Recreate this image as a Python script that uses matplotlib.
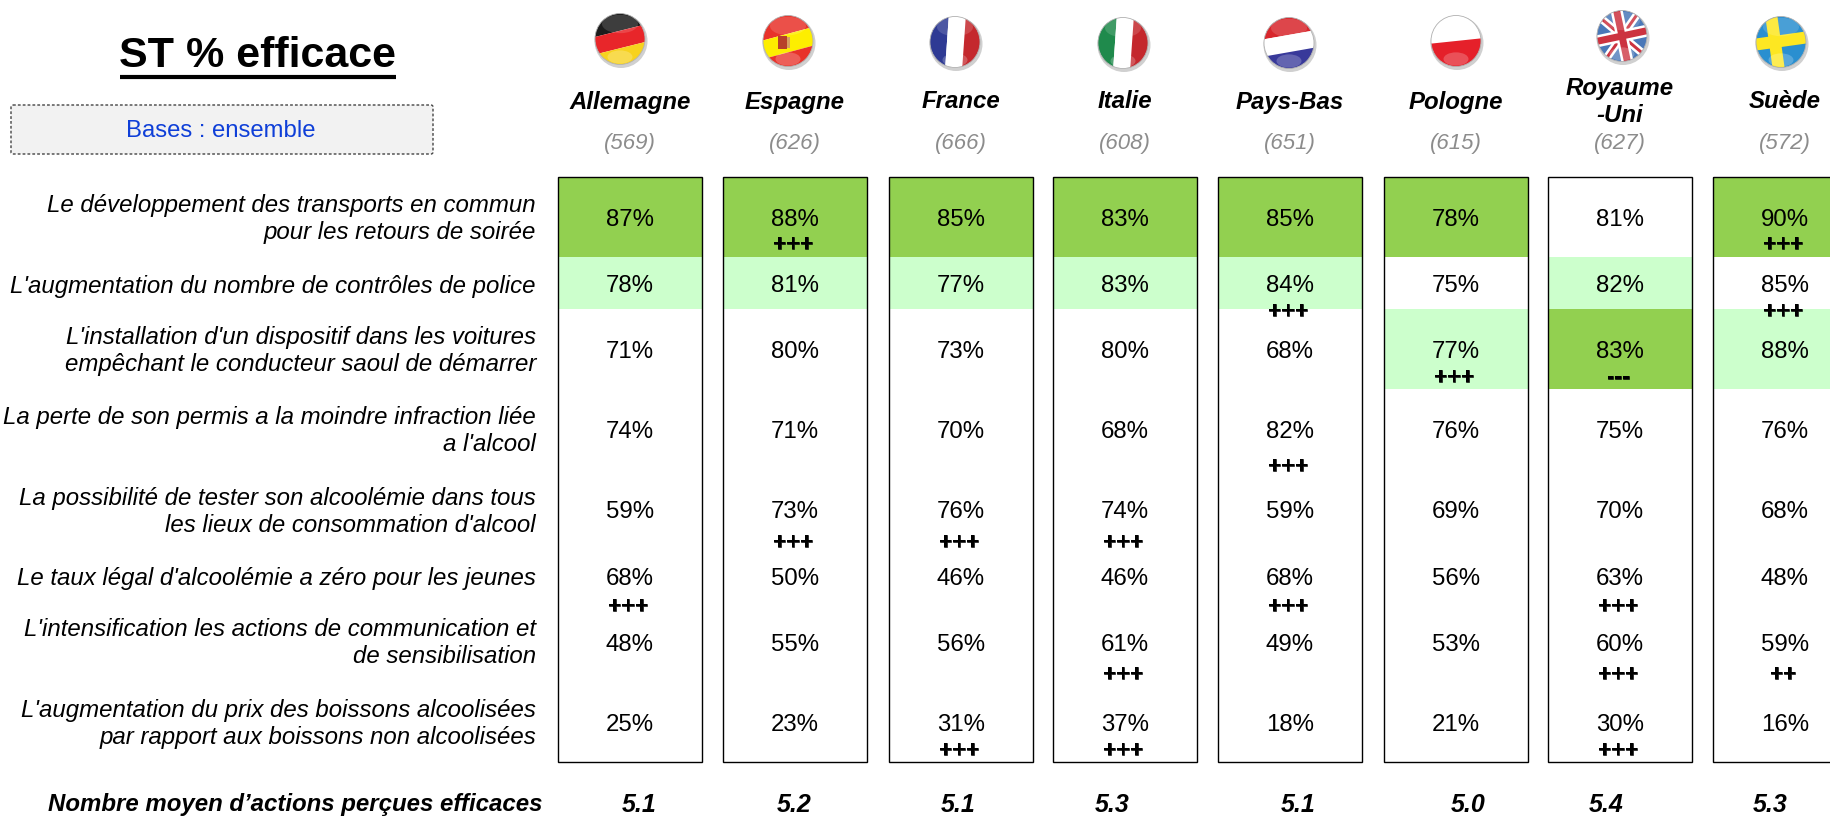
import matplotlib
matplotlib.use("Agg")
import matplotlib.pyplot as plt
import matplotlib.patheffects as pe
from matplotlib.patches import Ellipse, Rectangle, FancyBboxPatch
from matplotlib.transforms import Affine2D

plt.rcParams['font.family'] = ['Liberation Sans', 'DejaVu Sans']

COUNTRIES = ["Allemagne", "Espagne", "France", "Italie", "Pays-Bas", "Pologne", "Royaume\n-Uni", "Suède"]
BASES = ["(569)", "(626)", "(666)", "(608)", "(651)", "(615)", "(627)", "(572)"]
ITEMS = [
    "Le développement des transports en commun\npour les retours de soirée",
    "L'augmentation du nombre de contrôles de police",
    "L'installation d'un dispositif dans les voitures\nempêchant le conducteur saoul de démarrer",
    "La perte de son permis a la moindre infraction liée\na l'alcool",
    "La possibilité de tester son alcoolémie dans tous\nles lieux de consommation d'alcool",
    "Le taux légal d'alcoolémie a zéro pour les jeunes",
    "L'intensification les actions de communication et\nde sensibilisation",
    "L'augmentation du prix des boissons alcoolisées\npar rapport aux boissons non alcoolisées",
]
VALUES = [
    [87, 88, 85, 83, 85, 78, 81, 90],
    [78, 81, 77, 83, 84, 75, 82, 85],
    [71, 80, 73, 80, 68, 77, 83, 88],
    [74, 71, 70, 68, 82, 76, 75, 76],
    [59, 73, 76, 74, 59, 69, 70, 68],
    [68, 50, 46, 46, 68, 56, 63, 48],
    [48, 55, 56, 61, 49, 53, 60, 59],
    [25, 23, 31, 37, 18, 21, 30, 16],
]
MARKS = [
    ["", "+++", "", "", "", "", "", "+++"],
    ["", "", "", "", "+++", "", "", "+++"],
    ["", "", "", "", "", "+++", "---", ""],
    ["", "", "", "", "+++", "", "", ""],
    ["", "+++", "+++", "+++", "", "", "", ""],
    ["+++", "", "", "", "+++", "", "+++", ""],
    ["", "", "", "+++", "", "", "+++", "++"],
    ["", "", "+++", "+++", "", "", "+++", ""],
]
# 2 = top rank (dark green), 1 = second rank (light green); first three rows only
RANKS = [
    [2, 2, 2, 2, 2, 2, 0, 2],
    [1, 1, 1, 1, 1, 0, 1, 0],
    [0, 0, 0, 0, 0, 1, 2, 1],
]
MEANS = ["5.1", "5.2", "5.1", "5.3", "5.1", "5.0", "5.4", "5.3"]
MEAN_LABEL = "Nombre moyen d’actions perçues efficaces"

# layout, in pixels of the 1831x816 picture
COL_LEFT = [558, 723, 889, 1053, 1218, 1384, 1548, 1713]
COL_W = 144
BOX_TOP, BOX_BOTTOM = 177, 762
BAND_EDGES = [177, 257, 309, 389]
VALUE_Y = [220, 286, 352, 432, 512, 579, 645, 725]
MARK_Y = [244, 311, 377, 466, 542, 606, 674, 750]
LABEL_Y = [219, 286, 351, 431, 512, 578, 643, 724]
MEAN_X = [639, 794, 958, 1112, 1298, 1468, 1606, 1770]
FLAG_POS = [(620, 39), (788, 41), (955, 42), (1123, 43), (1289, 43), (1456, 41), (1622, 36), (1781, 42)]
BAND_COLORS = {1: "#CCFFCC", 2: "#92D050"}


def stripes(ax, clip, cx, cy, angle, rects):
    rot = Affine2D().rotate_deg_around(cx, cy, angle) + ax.transData
    for x, y, w, h, c in rects:
        r = Rectangle((cx + x, cy + y), w, h, fc=c, lw=0, transform=rot, zorder=3)
        ax.add_patch(r)
        r.set_clip_path(clip)


def draw_flag(ax, cx, cy, name):
    W, H = 50, 51
    ax.add_patch(Ellipse((cx + 1, cy + 2), W + 3, H + 3, fc="#d0d0d0", lw=0, zorder=2))
    clip = Ellipse((cx, cy), W, H, fc="white", lw=0, zorder=2)
    ax.add_patch(clip)
    if name == "de":
        stripes(ax, clip, cx, cy, -14, [(-40, -40, 80, 32, "#1c1c1c"), (-40, -8, 80, 17, "#e8262a"), (-40, 9, 80, 30, "#f7d21e")])
    elif name == "es":
        stripes(ax, clip, cx, cy, -15, [(-40, -40, 80, 33, "#e8322a"), (-40, -7, 80, 18, "#fdee00"), (-40, 11, 80, 30, "#e8322a")])
        stripes(ax, clip, cx, cy, 0, [(-10, -5, 9, 13, "#b8402a"), (-1, -4, 3, 11, "#d8a060")])
    elif name == "fr":
        stripes(ax, clip, cx, cy, 4, [(-40, -40, 32, 80, "#2e3a94"), (-8, -40, 17, 80, "#ffffff"), (9, -40, 32, 80, "#c4282d")])
    elif name == "it":
        stripes(ax, clip, cx, cy, 4, [(-40, -40, 32, 80, "#1f8a4c"), (-8, -40, 17, 80, "#ffffff"), (9, -40, 32, 80, "#c4282d")])
    elif name == "nl":
        stripes(ax, clip, cx, cy, -10, [(-40, -40, 80, 32, "#d8262c"), (-40, -8, 80, 17, "#ffffff"), (-40, 9, 80, 30, "#38399a")])
    elif name == "pl":
        stripes(ax, clip, cx, cy, -6, [(-40, -40, 80, 40, "#ffffff"), (-40, 0, 80, 40, "#e5202a")])
    elif name == "uk":
        stripes(ax, clip, cx, cy, 0, [(-40, -40, 80, 80, "#4a78b8")])
        stripes(ax, clip, cx, cy, 40, [(-40, -4, 80, 8, "#ffffff"), (-40, -1.5, 80, 3, "#cc3340")])
        stripes(ax, clip, cx, cy, -55, [(-40, -4, 80, 8, "#ffffff"), (-40, -1.5, 80, 3, "#cc3340")])
        stripes(ax, clip, cx, cy, -12, [(-40, -6, 80, 12, "#ffffff"), (-6, -40, 12, 80, "#ffffff"),
                                        (-40, -3.5, 80, 7, "#cc3340"), (-3.5, -40, 7, 80, "#cc3340")])
    elif name == "se":
        stripes(ax, clip, cx, cy, 0, [(-40, -40, 80, 80, "#2a8fd0")])
        stripes(ax, clip, cx, cy, -8, [(-40, -7, 80, 12, "#fde722"), (-12, -40, 12, 80, "#fde722")])
    # gloss
    g = Ellipse((cx, cy - 15), W * 0.72, H * 0.36, fc="white", alpha=0.15, lw=0, zorder=4)
    ax.add_patch(g)
    g2 = Ellipse((cx, cy + 18), W * 0.5, H * 0.26, fc="white", alpha=0.22, lw=0, zorder=4)
    ax.add_patch(g2)
    g2.set_clip_path(clip)
    ax.add_patch(Ellipse((cx, cy), W, H, fc="none", ec="#b0b0b0", lw=0.6, zorder=5))


fig = plt.figure(figsize=(18.31, 8.16), dpi=100)
ax = fig.add_axes([0, 0, 1, 1])
ax.set_xlim(0, 1831)
ax.set_ylim(816, 0)
ax.axis("off")

# title + base box
ax.text(258, 56, "ST % efficace", fontsize=31, fontweight="bold", ha="center", va="center")
ax.plot([120, 396], [77, 77], color="black", lw=3, solid_capstyle="butt")
ax.add_patch(FancyBboxPatch((11, 105), 422, 49, boxstyle="round,pad=0,rounding_size=2",
                            fc="#F2F2F2", ec="#444444", lw=1, ls=(0, (2, 1.5))))
ax.text(221, 131, "Bases : ensemble", fontsize=17.2, color="#0F3FD8", ha="center", va="center")

bold_mark = [pe.withStroke(linewidth=0.4, foreground="black")]
flag_names = ["de", "es", "fr", "it", "nl", "pl", "uk", "se"]
for j, name in enumerate(flag_names):
    xc = COL_LEFT[j] + COL_W / 2
    draw_flag(ax, FLAG_POS[j][0], FLAG_POS[j][1], name)
    ax.text(xc, 102, COUNTRIES[j], fontsize=17.3, fontweight="bold", style="italic",
            ha="center", va="center", linespacing=1.2, zorder=6)
    ax.text(xc, 144, BASES[j], fontsize=16, style="italic", color="#8c8c8c", ha="center", va="center")

    # bands then frame
    for i in range(len(RANKS)):
        rank = RANKS[i][j]
        if rank:
            ax.add_patch(Rectangle((COL_LEFT[j], BAND_EDGES[i]), COL_W, BAND_EDGES[i + 1] - BAND_EDGES[i],
                                   fc=BAND_COLORS[rank], lw=0, zorder=1))
    ax.add_patch(Rectangle((COL_LEFT[j], BOX_TOP), COL_W, BOX_BOTTOM - BOX_TOP, fc="none", ec="black", lw=1.0, zorder=2))

    for i in range(len(VALUES)):
        ax.text(xc, VALUE_Y[i], f"{VALUES[i][j]}%", fontsize=17.3, ha="center", va="center", zorder=6)
        if MARKS[i][j]:
            ax.text(xc - 2, MARK_Y[i], MARKS[i][j], fontsize=16.5, fontweight="bold", ha="center", va="center",
                    zorder=6, path_effects=bold_mark)
    ax.text(MEAN_X[j], 805, MEANS[j], fontsize=18, fontweight="bold", style="italic", ha="center", va="center")

for i, label in enumerate(ITEMS):
    ax.text(536, LABEL_Y[i], label, fontsize=17.3, style="italic", ha="right", va="center", linespacing=1.25)
ax.text(543, 805, MEAN_LABEL, fontsize=17.3, fontweight="bold", style="italic", ha="right", va="center")

fig.savefig("out.png", dpi=100)
